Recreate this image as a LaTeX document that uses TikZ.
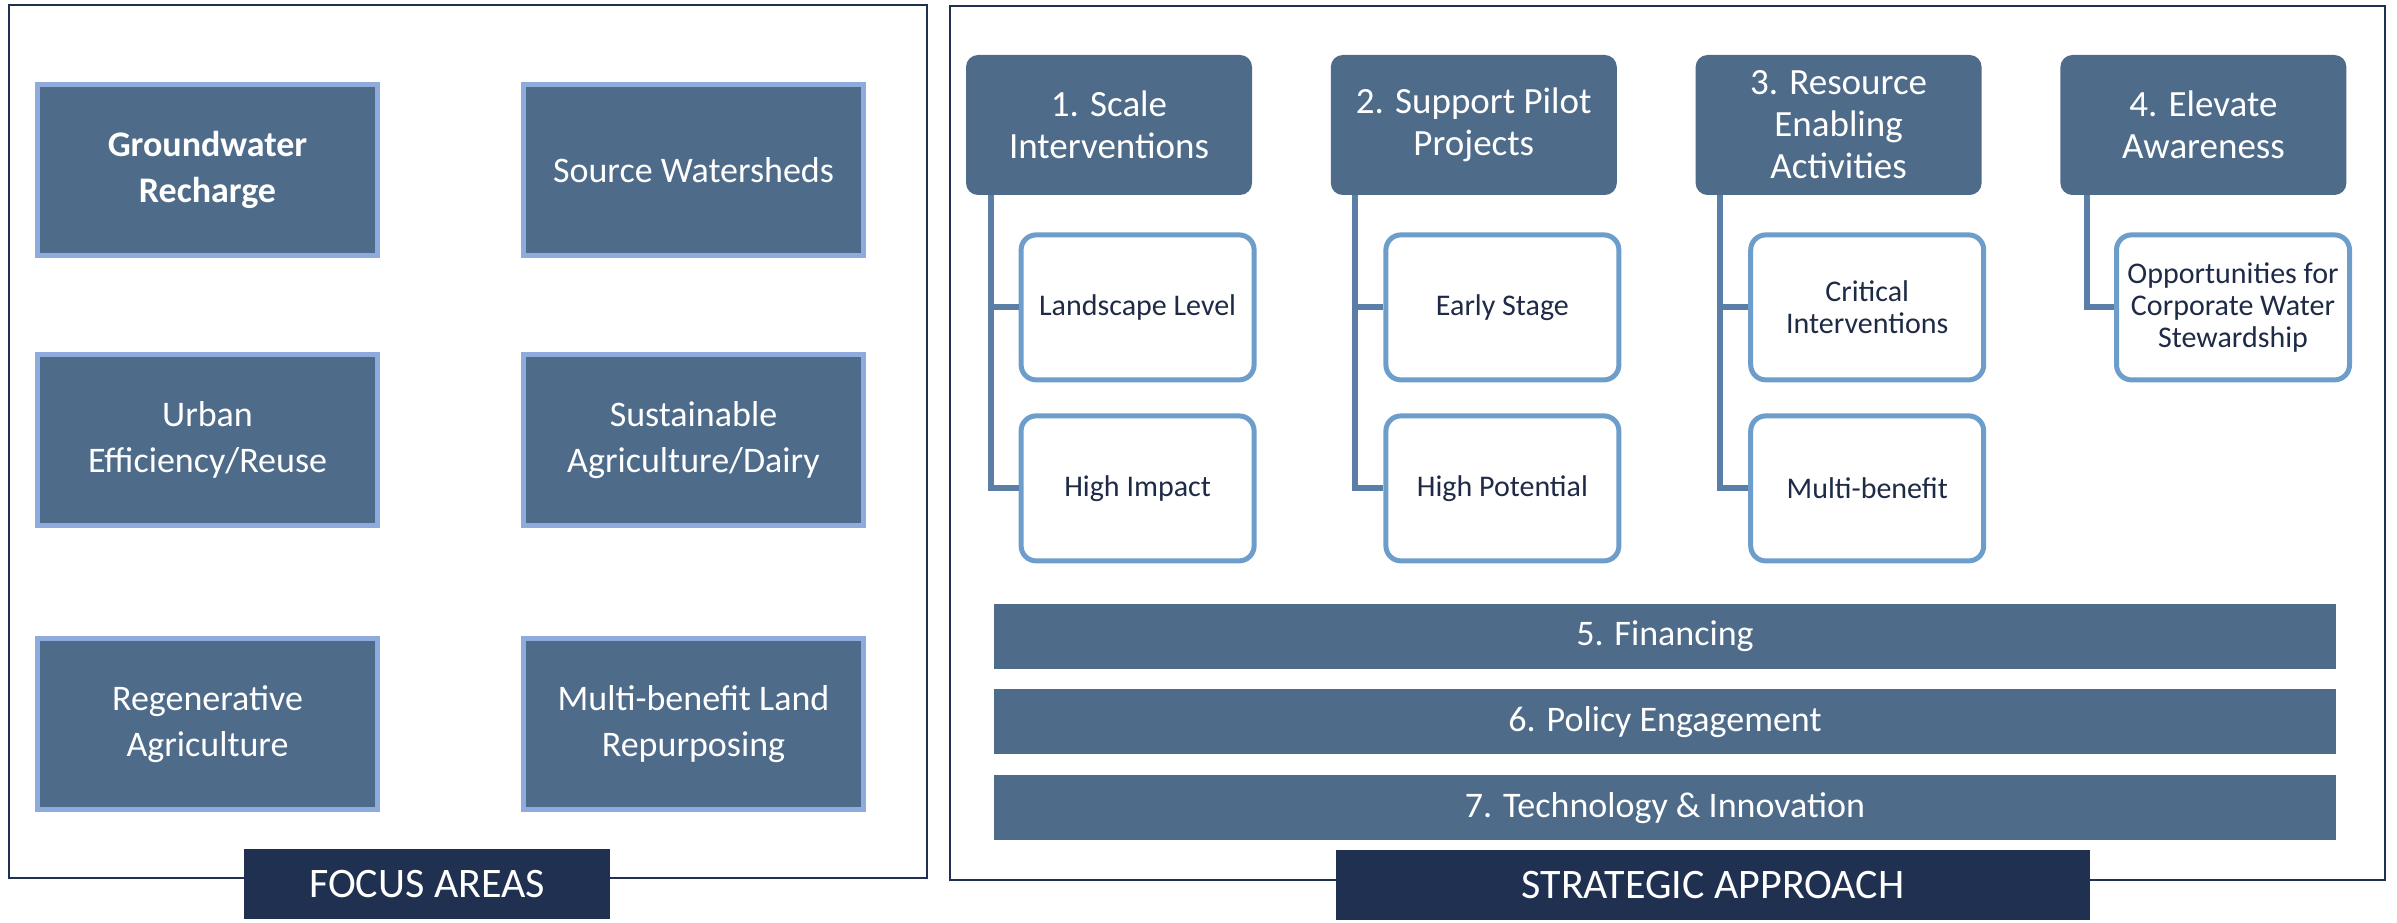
\documentclass[tikz,border=0pt]{standalone}
\usepackage{fontspec}
\setmainfont{Carlito}
\usepackage{tikz}
\usetikzlibrary{positioning, calc}

\definecolor{boxblue}{HTML}{4E6B8A}
\definecolor{edgeblue}{HTML}{8FAADC}
\definecolor{subedge}{HTML}{6C9DCB}
\definecolor{linkblue}{HTML}{5A7EA6}
\definecolor{navy}{HTML}{1F3050}
\definecolor{subtext}{HTML}{1F2B46}

\begin{document}
\begin{tikzpicture}[
        node distance=47pt and 70.5pt,
        frame/.style={draw=navy, line width=1pt, inner sep=0pt},
        focusbox/.style={draw=edgeblue, fill=boxblue, line width=2.5pt, minimum width=170pt, minimum height=85.5pt, align=center, text=white, font=\fontsize{18}{23}\selectfont},
        headbox/.style={fill=boxblue, rounded corners=6pt, minimum width=143pt, minimum height=70pt, align=center, text=white, font=\fontsize{18.5}{21}\selectfont},
        subbox/.style={draw=subedge, fill=white, line width=2.5pt, rounded corners=7.5pt, minimum width=116.5pt, minimum height=72.5pt, align=center, text=subtext, font=\fontsize{15}{16}\selectfont},
        barbox/.style={fill=boxblue, minimum width=671pt, minimum height=32.5pt, text=white, font=\fontsize{18}{21}\selectfont},
        tagbox/.style={fill=navy, minimum height=35pt, text=white, font=\fontsize{21}{25}\selectfont},
        link/.style={draw=linkblue, line width=3pt}
        ]
        \useasboundingbox (0,0) rectangle (1198.5pt,461pt);

        % Frames
        \node[frame, minimum width=459pt, minimum height=436.5pt] (focusframe) at (234pt,240.25pt) {};
        \node[frame, minimum width=717.5pt, minimum height=437pt] (stratframe) at (833.75pt,239.5pt) {};
        \node[tagbox, minimum width=183pt] (focustag) at ([xshift=-20.5pt,yshift=-2.5pt]focusframe.south) {FOCUS AREAS};
        \node[tagbox, minimum width=377pt] (strattag) at ([xshift=22.75pt,yshift=-2pt]stratframe.south) {STRATEGIC APPROACH};

        % Focus areas
        \node[focusbox] (recharge) at (103.75pt,376pt) {\textbf{Groundwater}\\\textbf{Recharge}};
        \node[focusbox, right=of recharge] (watersheds) {Source Watersheds};
        \node[focusbox, below=of recharge] (urban) {Urban\\Efficiency/Reuse};
        \node[focusbox, right=of urban] (dairy) {Sustainable\\Agriculture/Dairy};
        \node[focusbox, below=54pt of urban] (regen) {Regenerative\\Agriculture};
        \node[focusbox, right=of regen] (landuse) {Multi-benefit Land\\Repurposing};

        % Strategic approach
        \node[headbox] (scale) at (554.5pt,398.5pt) {1. Scale\\Interventions};
        \node[headbox, right=39pt of scale] (pilot) {2. Support Pilot\\Projects};
        \node[headbox, right=39pt of pilot] (enable) {3. Resource\\Enabling\\Activities};
        \node[headbox, right=39pt of enable] (aware) {4. Elevate\\Awareness};

        \node[subbox, below right=18.5pt and 26.5pt of scale.south west] (landscape) {Landscape Level};
        \node[subbox, below=15.5pt of landscape] (impact) {High Impact};
        \node[subbox, below right=18.5pt and 26.5pt of pilot.south west] (early) {Early Stage};
        \node[subbox, below=15.5pt of early] (potential) {High Potential};
        \node[subbox, below right=18.5pt and 26.5pt of enable.south west] (critical) {Critical\\Interventions};
        \node[subbox, below=15.5pt of critical] (multi) {Multi-benefit};
        \node[subbox, below right=18.5pt and 27pt of aware.south west] (corporate) {Opportunities for\\Corporate Water\\Stewardship};

        \node[barbox] (financing) at (832.5pt,143pt) {5. Financing};
        \node[barbox, below=10pt of financing] (policy) {6. Policy Engagement};
        \node[barbox, below=10pt of policy] (tech) {7. Technology \& Innovation};

        % Connectors
        \coordinate (scaletrunk) at ([xshift=12.5pt]scale.south west);
        \coordinate (pilottrunk) at ([xshift=12.5pt]pilot.south west);
        \coordinate (enabletrunk) at ([xshift=12.5pt]enable.south west);
        \coordinate (awaretrunk) at ([xshift=13.5pt]aware.south west);

        \draw[link] (scaletrunk) |- (impact.west);
        \draw[link] (scaletrunk |- landscape.west) -- (landscape.west);
        \draw[link] (pilottrunk) |- (potential.west);
        \draw[link] (pilottrunk |- early.west) -- (early.west);
        \draw[link] (enabletrunk) |- (multi.west);
        \draw[link] (enabletrunk |- critical.west) -- (critical.west);
        \draw[link] (awaretrunk) |- (corporate.west);

\end{tikzpicture}
\end{document}
